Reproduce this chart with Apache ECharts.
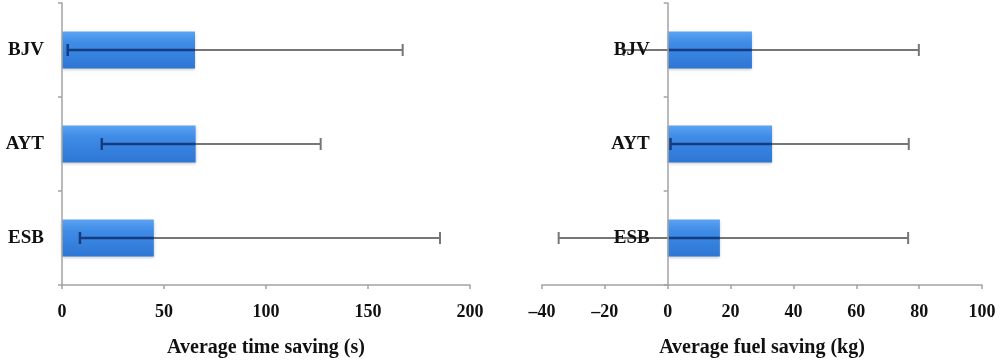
<!DOCTYPE html>
<html>
<head>
<meta charset="utf-8">
<script src="https://cdn.jsdelivr.net/npm/echarts@6/dist/echarts.min.js"></script>
<style>
  html, body { margin: 0; padding: 0; background: #fff; }
  #chart { width: 1000px; height: 361px; }
</style>
</head>
<body>
<div id="chart"></div>
<script>
// categories bottom -> top
const categories = ['ESB', 'AYT', 'BJV'];

// average time saving (s) with error range
const timeSaving = [45, 65.5, 65.2];
const timeLow = [8.8, 19.5, 2.8];
const timeHigh = [185.3, 126.8, 167];

// average fuel saving (kg) with error range
const fuelSaving = [16.6, 33.2, 26.8];
const fuelLow = [-34.7, 0.9, -14];
const fuelHigh = [76.5, 76.7, 79.9];

const timeTicks = { min: 0, max: 200, interval: 50 };
const fuelTicks = { min: -40, max: 100, interval: 20 };

const font = 'Liberation Serif';
const axisGrey = '#a3a3a3';

const grids = [
  { left: 62, right: 530, top: 3, bottom: 76, outerBoundsMode: 'none' },
  { left: 542, right: 18, top: 3, bottom: 76, outerBoundsMode: 'none' }
];

function barGradient() {
  return new echarts.graphic.LinearGradient(0, 0, 0, 1, [
    { offset: 0, color: '#5ba3f3' },
    { offset: 0.3, color: '#3f8ce7' },
    { offset: 1, color: '#2e76d4' }
  ]);
}

function errorData(low, high, vals) {
  return categories.map((c, i) => [low[i], high[i], i, vals[i]]);
}

function renderError(params, api) {
  const lo = api.value(0), hi = api.value(1), cat = api.value(2), bar = api.value(3);
  const p0 = api.coord([lo, cat]);
  const p1 = api.coord([hi, cat]);
  const y = p0[1];
  const capH = 6;
  const grey = { stroke: '#767676', lineWidth: 2 };
  const dark = { stroke: '#163c80', lineWidth: 2.5 };
  const children = [
    { type: 'line', shape: { x1: p0[0], y1: y, x2: p1[0], y2: y }, style: grey },
    { type: 'line', shape: { x1: p0[0], y1: y - capH, x2: p0[0], y2: y + capH },
      style: (lo >= 0 && lo <= bar) ? dark : grey },
    { type: 'line', shape: { x1: p1[0], y1: y - capH, x2: p1[0], y2: y + capH },
      style: (hi >= 0 && hi <= bar) ? dark : grey }
  ];
  const d0 = Math.max(lo, 0), d1 = Math.min(hi, bar);
  if (d1 > d0) {
    const a = api.coord([d0, cat]), b = api.coord([d1, cat]);
    children.push({ type: 'line', shape: { x1: a[0], y1: y, x2: b[0], y2: y }, style: dark });
  }
  return { type: 'group', children: children };
}

function xAxisFor(idx, ticks, name) {
  return {
    type: 'value',
    gridIndex: idx,
    min: ticks.min,
    max: ticks.max,
    interval: ticks.interval,
    name: name,
    nameLocation: 'middle',
    nameGap: 53,
    nameTextStyle: { fontFamily: font, fontWeight: 'bold', fontSize: 20, color: '#111' },
    axisLine: { show: true, onZero: false, lineStyle: { color: axisGrey, width: 1.5 } },
    axisTick: { show: true, length: 4, lineStyle: { color: axisGrey, width: 1.5 } },
    axisLabel: {
      margin: 18,
      fontFamily: font, fontWeight: 'bold', fontSize: 18, color: '#111',
      formatter: v => String(v).replace('-', '\u2013')
    },
    splitLine: { show: false }
  };
}

// the category axis sits where the value axis crosses zero
function zeroOffset(idx, ticks) {
  const w = 1000 - grids[idx].left - grids[idx].right;
  return -w * (0 - ticks.min) / (ticks.max - ticks.min);
}

function yAxisFor(idx, ticks) {
  return {
    type: 'category',
    gridIndex: idx,
    data: categories,
    z: 5,
    offset: zeroOffset(idx, ticks),
    axisLine: { show: true, onZero: false, lineStyle: { color: axisGrey, width: 1.5 } },
    axisTick: { show: true, length: 4, alignWithLabel: false, lineStyle: { color: axisGrey, width: 1.5 } },
    axisLabel: {
      margin: 18,
      fontFamily: font, fontWeight: 'bold', fontSize: 19, color: '#111'
    },
    splitLine: { show: false }
  };
}

const chart = echarts.init(document.getElementById('chart'));
chart.setOption({
  animation: false,
  grid: grids,
  xAxis: [
    xAxisFor(0, timeTicks, 'Average time saving (s)'),
    xAxisFor(1, fuelTicks, 'Average fuel saving (kg)')
  ],
  yAxis: [yAxisFor(0, timeTicks), yAxisFor(1, fuelTicks)],
  series: [
    {
      type: 'bar', xAxisIndex: 0, yAxisIndex: 0,
      data: timeSaving, barWidth: 37,
      itemStyle: { color: barGradient(), shadowColor: 'rgba(0,0,0,0.25)', shadowBlur: 3, shadowOffsetY: 1 }
    },
    {
      type: 'custom', xAxisIndex: 0, yAxisIndex: 0, z: 3,
      renderItem: renderError,
      data: errorData(timeLow, timeHigh, timeSaving)
    },
    {
      type: 'bar', xAxisIndex: 1, yAxisIndex: 1,
      data: fuelSaving, barWidth: 37,
      itemStyle: { color: barGradient(), shadowColor: 'rgba(0,0,0,0.25)', shadowBlur: 3, shadowOffsetY: 1 }
    },
    {
      type: 'custom', xAxisIndex: 1, yAxisIndex: 1, z: 3,
      renderItem: renderError,
      data: errorData(fuelLow, fuelHigh, fuelSaving)
    }
  ]
});
</script>
</body>
</html>
